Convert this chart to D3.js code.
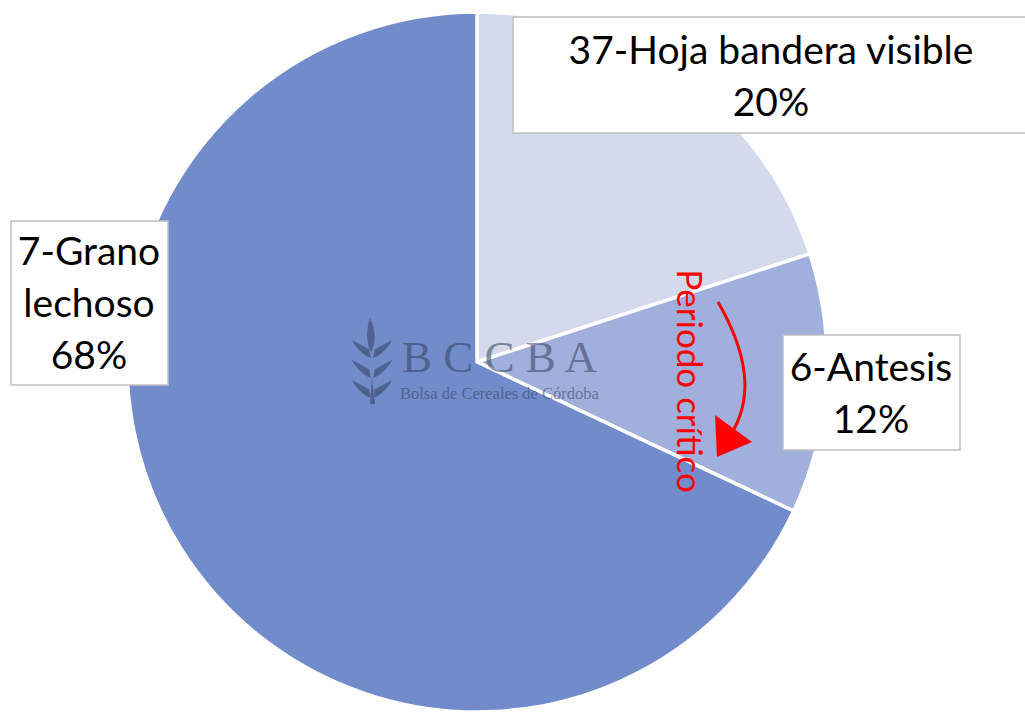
<!DOCTYPE html>
<html>
<head>
<meta charset="utf-8">
<script src="https://cdn.jsdelivr.net/npm/d3@7"></script>
<style>
    html, body { margin: 0; padding: 0; background: #fff; overflow: hidden; }
</style>
</head>
<body>
<div id="chart"></div>
<script>
// data
const stages = ["37-Hoja bandera visible", "6-Antesis", "7-Grano lechoso"];
const shares = [20, 12, 68];
const sliceColors = ["#D4D9EC", "#A1AFDC", "#728CCB"];
// label text lines for each slice (label + percent)
const labelLines = [
    ["37-Hoja bandera visible", "20%"],
    ["6-Antesis", "12%"],
    ["7-Grano", "lechoso", "68%"]
];

document.addEventListener("DOMContentLoaded", function () {
    const width = 1025;
    const height = 712;
    const cx = 477, cy = 362;
    const radius = 350;

    const svg = d3.select("#chart")
        .append("svg")
        .attr("width", width)
        .attr("height", height);

    const pie = d3.pie().value(d => d.value).sort(null);
    const arc = d3.arc().innerRadius(0).outerRadius(radius);

    const data = stages.map((s, i) => ({ stage: s, value: shares[i], color: sliceColors[i], lines: labelLines[i] }));

    const g = svg.append("g").attr("transform", `translate(${cx},${cy})`);

    g.selectAll("path")
        .data(pie(data))
        .enter()
        .append("path")
        .attr("d", arc)
        .attr("fill", d => d.data.color)
        .attr("stroke", "#fff")
        .attr("stroke-width", 3.5)
        .attr("stroke-linejoin", "miter");

    // watermark logo (BCCBA)
    const logo = svg.append("g").attr("fill", "#34415f").attr("opacity", 0.55);
    const leaf = "M0,0 C-4,-6 -6,-16 -4,-26 L4,-8 Z";
    logo.append("path").attr("d", "M370,318 C366,330 366,342 371,352 C376,342 376,330 370,318 Z");
    [336, 356, 376].forEach(y => {
        logo.append("path").attr("d", leaf).attr("transform", `translate(371,${y + 22}) rotate(-38)`);
        logo.append("path").attr("d", leaf).attr("transform", `translate(373,${y + 22}) scale(-1,1) rotate(-38)`);
    });
    logo.append("path").attr("d", "M372,378 L375,404 L370,404 Z");
    logo.append("text")
        .attr("x", 402).attr("y", 372)
        .style("font-family", "'Liberation Serif', 'DejaVu Serif', serif")
        .style("font-size", "45px")
        .text("B C C B A");
    logo.append("text")
        .attr("x", 400).attr("y", 399)
        .style("font-family", "'Liberation Serif', 'DejaVu Serif', serif")
        .style("font-size", "16.5px")
        .text("Bolsa de Cereales de Córdoba");

    // label boxes (Excel-style callouts)
    const boxes = [
        { x: 513, y: 17, w: 520, h: 116, tx: 771, ty: 64 },
        { x: 783, y: 335, w: 177, h: 115, tx: 871, ty: 381 },
        { x: 11, y: 221, w: 157, h: 164, tx: 89, ty: 265 }
    ];
    const lineGap = 52;

    const labels = svg.selectAll("g.label")
        .data(data)
        .enter()
        .append("g")
        .attr("class", "label");

    labels.append("rect")
        .attr("x", (d, i) => boxes[i].x)
        .attr("y", (d, i) => boxes[i].y)
        .attr("width", (d, i) => boxes[i].w)
        .attr("height", (d, i) => boxes[i].h)
        .attr("fill", "#fff")
        .attr("stroke", "#BFBFBF")
        .attr("stroke-width", 1.5);

    labels.each(function (d, i) {
        const t = d3.select(this).append("text")
            .attr("text-anchor", "middle")
            .style("font-family", "Lato, 'Noto Sans', sans-serif")
            .style("font-size", "39px")
            .style("fill", "#000");
        d.lines.forEach((line, k) => {
            t.append("tspan")
                .attr("x", boxes[i].tx)
                .attr("y", boxes[i].ty + k * lineGap)
                .text(line);
        });
    });

    // "Periodo crítico" annotation with curved arrow
    const red = "#FF0000";
    svg.append("path")
        .attr("d", "M718,302 Q762,378 734,429")
        .attr("fill", "none")
        .attr("stroke", red)
        .attr("stroke-width", 3);
    svg.append("path")
        .attr("d", "M715,415 L752,442 L717,457 Z")
        .attr("fill", red);
    svg.append("text")
        .attr("transform", "translate(677,381) rotate(90)")
        .attr("text-anchor", "middle")
        .style("font-family", "Lato, 'Noto Sans', sans-serif")
        .style("font-size", "35px")
        .style("fill", red)
        .text("Periodo crítico");
});
</script>
</body>
</html>
